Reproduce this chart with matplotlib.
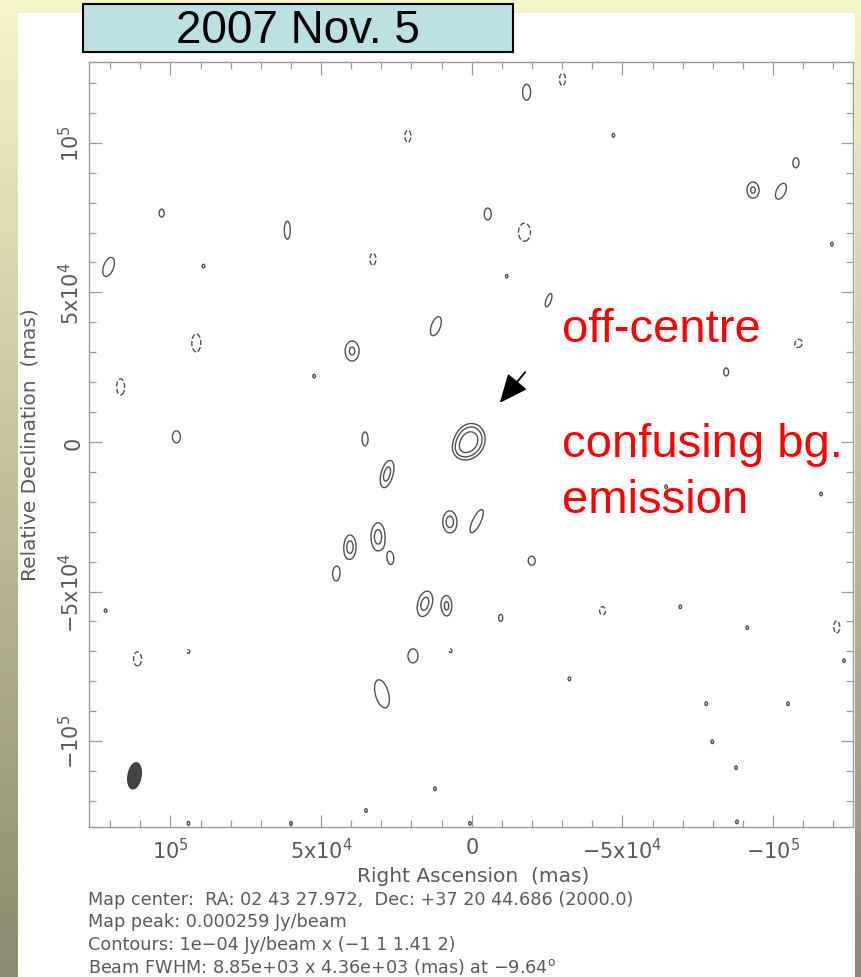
import numpy as np
import matplotlib
matplotlib.use("Agg")
import matplotlib.pyplot as plt
from matplotlib.patches import Rectangle

plt.rcParams['mathtext.default'] = 'regular'

# ---------------- data ----------------
# Source components (RA offset, Dec offset in mas; peak in units of 1e-4 Jy/beam;
# Gaussian sigma along / across position angle in mas; PA in deg east of north)
src_ra = [660, 4000, 21200, 102900, 61200, 32800, 120500, 89000, 11900, 91400,
          39700, 52300, 116500, 98000, 35400, -18200, -30100, -47000, -107600, -93300,
          -102600, -119500, -5300, -17500, -11600, -25500, -108600, -109600, -84400, 28100,
          7300, -1700, 40400, 31100, 26800, 45000, 15600, 8300, 19500, 7000,
          29800, 121500, 110900, 94000, 12200, 35100, -19900, -9600, -43400, -69200,
          -91400, -121100, -123500, -32400, -77800, -104900, -79800, -87700, -115900, -64500,
          94000, 60000, 600, -88000]
src_dec = [330, -3000, 102200, 76500, 70800, 61100, 58500, 58800, 38700, 33100,
           30400, 22000, 18400, 1700, 1000, 116900, 121200, 102500, 93500, 84200,
           83800, 66100, 76200, 70100, 55400, 47400, 32100, 27100, 23400, -10700,
           -26700, -26400, -35100, -31700, -39100, -44100, -54100, -54800, -71500, -69800,
           -84200, -56400, -72500, -70100, -115900, -123200, -39700, -58800, -56400, -55100,
           -62100, -61800, -73100, -79200, -87500, -87500, -100200, -108900, -17400, -15000,
           -127500, -127500, -127500, -127000]
src_peak = [2.59, 0.5, -1.2, 1.2, 1.2, -1.2, 1.2, 1.03, 1.2, -1.2,
            1.5, 1.03, -1.2, 1.2, 1.2, 1.2, -1.2, 1.03, 1.2, 1.5,
            1.2, 1.03, 1.2, -1.2, 1.03, 1.2, -1.2, 1.03, 1.2, 1.6,
            1.6, 1.2, 1.6, 1.6, 1.2, 1.2, 1.6, 1.5, 1.2, -1.03,
            1.2, 1.03, -1.2, -1.03, 1.03, 1.03, 1.2, 1.2, -1.2, 1.03,
            1.03, -1.2, 1.03, 1.03, 1.03, 1.03, 1.03, 1.03, 1.03, 1.03,
            1.03, 1.03, 1.03, 1.03]
src_smaj = [4300, 2500, 3310, 2210, 4970, 3310, 5520, 2600, 5520, 4970,
            3710, 2600, 4420, 3310, 3860, 4420, 3310, 2600, 2210, 2970,
            4690, 2600, 3310, 4970, 2600, 3860, 3860, 2600, 2210, 4820,
            3780, 6900, 4130, 4820, 2760, 3860, 4470, 3710, 3860, 2600,
            8000, 2600, 3860, 2600, 2600, 2600, 2480, 1930, 2210, 2600,
            2600, 3310, 2600, 2600, 2600, 2600, 2600, 2600, 2600, 2600,
            2600, 2600, 2600, 2600]
src_smin = [3600, 2500, 1640, 1370, 1640, 1640, 2740, 1800, 2470, 2470,
            2570, 1800, 2190, 2190, 1640, 2190, 1640, 1800, 1370, 2210,
            2470, 1800, 1920, 3290, 1800, 1370, 2740, 1800, 1370, 2050,
            2390, 2200, 2050, 2390, 1370, 1920, 2390, 1840, 2740, 1800,
            3600, 1800, 2190, 1800, 1800, 1800, 1920, 1100, 1640, 1800,
            1800, 1640, 1800, 1800, 1800, 1800, 1800, 1800, 1800, 1800,
            1800, 1800, 1800, 1800]
src_pa = [-20, 0, 0, 0, 0, 0, -20, 0, -20, 0,
          0, 0, 0, 0, 0, 0, 0, 0, 0, 0,
          -25, 0, 0, 0, 0, -20, 0, 0, 0, -15,
          0, -25, 0, 0, 0, 0, -15, 0, 0, 0,
          15, 0, 0, 0, 0, 0, 0, 0, 0, 0,
          0, 0, 0, 0, 0, 0, 0, 0, 0, 0,
          0, 0, 0, 0]

contour_base = 1e-4          # Jy/beam
contour_mults = [-1, 1, 1.41, 2]

beam_ra, beam_dec = 111900, -111600
beam_maj, beam_min, beam_pa = 8850, 4360, -9.64   # FWHM mas, deg

x_ticks = [1e5, 5e4, 0, -5e4, -1e5]
x_ticklabels = ['10$^5$', '5x10$^4$', '0', '\u22125x10$^4$', '\u221210$^5$']
y_ticks = [1e5, 5e4, 0, -5e4, -1e5]
y_ticklabels = ['10$^5$', '5x10$^4$', '0', '\u22125x10$^4$', '\u221210$^5$']

title_text = '2007 Nov. 5'
note_lines = ['off-centre', 'confusing bg.', 'emission']
footer_lines = ['Map center:  RA: 02 43 27.972,  Dec: +37 20 44.686 (2000.0)',
                'Map peak: 0.000259 Jy/beam',
                'Contours: 1e\u221204 Jy/beam x (\u22121 1 1.41 2)',
                'Beam FWHM: 8.85e+03 x 4.36e+03 (mas) at \u22129.64$^o$']

# ---------------- figure ----------------
W, H = 861, 978
fig = plt.figure(figsize=(W / 100, H / 100), dpi=100)

# background gradient
bg = fig.add_axes([0, 0, 1, 1])
top_c = np.array([0.965, 0.957, 0.788])
bot_c = np.array([0.545, 0.541, 0.435])
t = np.linspace(0, 1, 256)[:, None, None]
grad = top_c[None, None, :] * (1 - t) + bot_c[None, None, :] * t
grad = np.repeat(grad, 2, axis=1)
bg.imshow(grad, aspect='auto', extent=[0, 1, 0, 1])
bg.add_patch(Rectangle((18 / W, 0), (855 - 18) / W, (H - 14) / H,
                       facecolor='white', edgecolor='none'))
bg.set_xlim(0, 1)
bg.set_ylim(0, 1)
bg.axis('off')

# title box
bg.add_patch(Rectangle((83 / W, 1 - 53 / H), (513 - 83) / W, 48 / H,
                       facecolor='#bde0e3', edgecolor='black', lw=1.5))
bg.text(298 / W, 1 - 31 / H, title_text, ha='center', va='center',
        fontsize=33, family='Liberation Sans', color='black')

# main map axes
ax = fig.add_axes([89 / W, 1 - 828 / H, (853 - 89) / W, (828 - 63) / H])
xg = np.linspace(-129000, 129000, 1100)
yg = np.linspace(-130000, 129000, 1100)
X, Y = np.meshgrid(xg, yg)
img = np.zeros_like(X)
for x0, y0, pk, smaj, smin, pa in zip(src_ra, src_dec, src_peak, src_smaj, src_smin, src_pa):
    th = np.deg2rad(pa)
    dx = X - x0
    dy = Y - y0
    a = dx * np.sin(th) + dy * np.cos(th)
    b = dx * np.cos(th) - dy * np.sin(th)
    img += pk * contour_base * np.exp(-0.5 * (a ** 2 / smaj ** 2 + b ** 2 / smin ** 2))

levels = np.array(contour_mults) * contour_base
ax.contour(X, Y, img, levels=levels, colors='#505050', linewidths=1.0,
           negative_linestyles='dashed')

# beam
tt = np.linspace(0, 2 * np.pi, 200)
thb = np.deg2rad(beam_pa)
am, bm = beam_maj / 2, beam_min / 2
ex = beam_ra + am * np.cos(tt) * np.sin(thb) + bm * np.sin(tt) * np.cos(thb)
ey = beam_dec + am * np.cos(tt) * np.cos(thb) - bm * np.sin(tt) * np.sin(thb)
ax.fill(ex, ey, color='#444444', lw=0.8, edgecolor='#333333')

ax.set_xlim(127000, -126500)
ax.set_ylim(-128700, 127000)
ax.set_xticks(x_ticks)
ax.set_xticklabels(x_ticklabels)
ax.set_yticks(y_ticks)
ax.set_yticklabels(y_ticklabels, rotation=90, va='center')
ax.set_xticks(np.arange(-120000, 120001, 10000), minor=True)
ax.set_yticks(np.arange(-120000, 120001, 10000), minor=True)
ax.tick_params(which='both', direction='in', top=True, right=True,
               color='#9a9a9a', width=0.9, labelcolor='#5a5a5a', labelsize=15)
ax.tick_params(which='major', length=9, pad=7)
ax.tick_params(axis='y', which='major', pad=4)
ax.tick_params(which='minor', length=5)
for s in ax.spines.values():
    s.set_color('#9a9a9a')
    s.set_linewidth(1.0)

# axis labels
fig.text(473 / W, 1 - 876 / H, 'Right Ascension  (mas)', ha='center', va='center',
         fontsize=14.5, color='#5a5a5a')
fig.text(30 / W, 1 - 445 / H, 'Relative Declination  (mas)', ha='center', va='center',
         rotation=90, fontsize=14.5, color='#5a5a5a')

# footer
for i, line in enumerate(footer_lines):
    fig.text(88 / W, 1 - (900 + 22.5 * i) / H, line, ha='left', va='center',
             fontsize=12.7, color='#5a5a5a')

# red annotations
note_y = [342, 457, 513]
for line, yb in zip(note_lines, note_y):
    fig.text(562 / W, 1 - yb / H, line, ha='left', va='baseline',
             fontsize=34, family='Liberation Sans', color='#ff0000')

ax.annotate('', xy=(498, H - 406), xycoords='figure pixels',
            xytext=(527, H - 371), textcoords='figure pixels',
            arrowprops=dict(arrowstyle='-|>,head_length=0.8,head_width=0.35',
                            color='black', lw=1.3, mutation_scale=22))

fig.savefig('out.png', dpi=100)
